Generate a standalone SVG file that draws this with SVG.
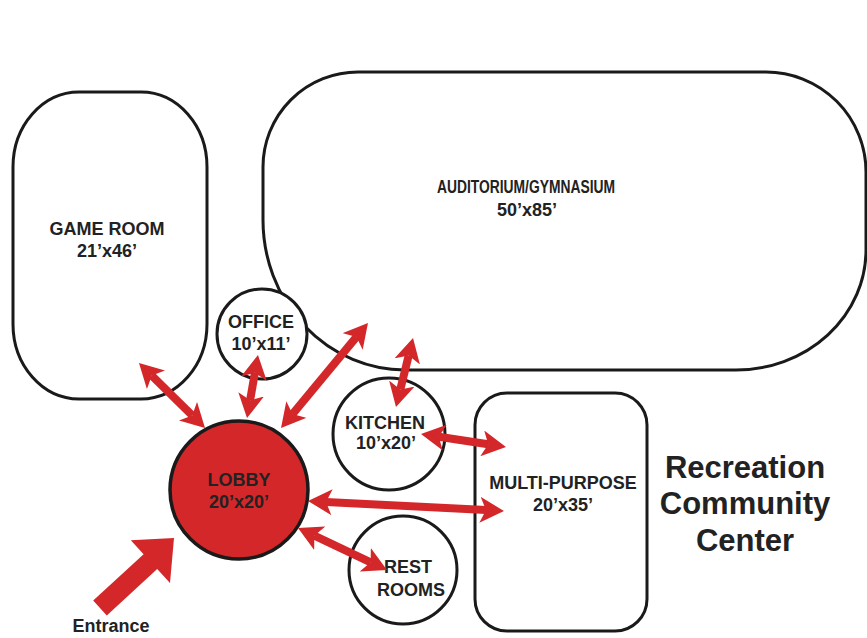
<svg xmlns="http://www.w3.org/2000/svg" width="867" height="638" viewBox="0 0 867 638">
<style>
.room{fill:#fff;stroke:#1a1a1a;stroke-width:3}
.lobby{fill:#d4272a;stroke:#1a1a1a;stroke-width:3.5}
.lbl{font-family:"Liberation Sans",Arial,sans-serif;font-weight:bold;font-size:18px;fill:#222;text-anchor:middle}
.title{font-family:"Liberation Sans",Arial,sans-serif;font-weight:bold;font-size:31px;fill:#222;text-anchor:middle}
.conn{stroke:#d4272a;stroke-width:8;fill:none;marker-start:url(#head);marker-end:url(#head)}
</style>
<defs>
<marker id="head" viewBox="0 0 24 26" markerWidth="24" markerHeight="26" markerUnits="userSpaceOnUse" refX="6" refY="13" orient="auto-start-reverse">
<path d="M0,0 L24,13 L0,26 L6,13 Z" fill="#d4272a"/>
</marker>
</defs>
<rect width="867" height="638" fill="#fff"/>
<g id="game-room">
<rect class="room" x="13" y="92" width="194" height="307" rx="66" ry="75"/>
<text class="lbl" x="107" y="235">GAME ROOM</text>
<text class="lbl" x="107" y="257">21’x46’</text>
</g>
<g id="auditorium">
<path class="room" d="M358 72 H766 A100 100 0 0 1 866 172 V250 A130 120 0 0 1 736 370 H405 A142 150 0 0 1 263 220 V167 A95 95 0 0 1 358 72 Z"/>
<text class="lbl" x="526" y="193" font-size="17" textLength="178" lengthAdjust="spacingAndGlyphs">AUDITORIUM/GYMNASIUM</text>
<text class="lbl" x="527" y="216" font-size="17">50’x85’</text>
</g>
<g id="office">
<circle class="room" cx="262" cy="334" r="45"/>
<text class="lbl" x="261" y="328">OFFICE</text>
<text class="lbl" x="261" y="350">10’x11’</text>
</g>
<g id="kitchen">
<circle class="room" cx="389" cy="434" r="56"/>
<text class="lbl" x="385" y="429">KITCHEN</text>
<text class="lbl" x="386" y="449">10’x20’</text>
</g>
<g id="multi-purpose">
<rect class="room" x="475" y="393" width="172" height="238" rx="32"/>
<text class="lbl" x="563" y="489">MULTI-PURPOSE</text>
<text class="lbl" x="563" y="511">20’x35’</text>
</g>
<g id="rest-rooms">
<circle class="room" cx="403" cy="570" r="54"/>
<text class="lbl" x="408" y="573">REST</text>
<text class="lbl" x="411" y="596">ROOMS</text>
</g>
<g id="lobby">
<circle class="lobby" cx="239" cy="490" r="69"/>
<text class="lbl" x="239" y="486">LOBBY</text>
<text class="lbl" x="239" y="508">20’x20’</text>
</g>
<g id="entrance">
<polygon points="93.2,600.6 143.6,554.2 130.8,540.2 174,538 170,583 157.2,569 106.8,615.4" fill="#d4272a"/>
<text class="lbl" x="111" y="632">Entrance</text>
</g>
<g id="connectors">
<line class="conn" x1="151.8" y1="375.6" x2="192.2" y2="415.4"/>
<line class="conn" x1="254.9" y1="372.7" x2="250.1" y2="400.3"/>
<line class="conn" x1="356.5" y1="336.9" x2="292.5" y2="414.1"/>
<line class="conn" x1="408.7" y1="355.5" x2="400.3" y2="389.5"/>
<line class="conn" x1="438.8" y1="436.7" x2="488.2" y2="444.3"/>
<line class="conn" x1="326" y1="501.9" x2="486" y2="510.1"/>
<line class="conn" x1="314.3" y1="535.7" x2="370.7" y2="562.3"/>
</g>
<g id="title">
<text class="title" x="745" y="478">Recreation</text>
<text class="title" x="745" y="514">Community</text>
<text class="title" x="745" y="551">Center</text>
</g>
</svg>
